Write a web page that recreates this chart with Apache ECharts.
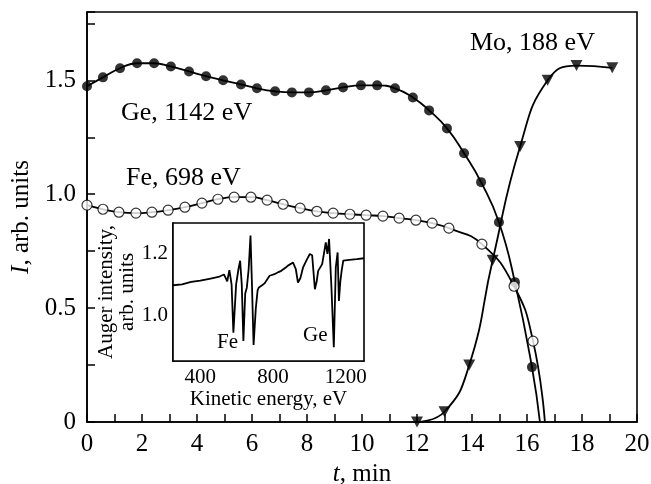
<!DOCTYPE html>
<html>
<head>
<meta charset="utf-8">
<script src="https://cdn.jsdelivr.net/npm/echarts@6/dist/echarts.min.js"></script>
<style>
html,body{margin:0;padding:0;background:#fff;}
#chart{width:651px;height:484px;}
</style>
</head>
<body>
<div id="chart"></div>
<script>
// Ge, 1142 eV (filled circles)
const geT = [0.00,0.58,1.20,1.82,2.44,3.05,3.71,4.33,4.95,5.60,6.18,6.84,7.45,8.07,8.69,9.31,9.96,10.55,11.20,11.85,12.44,13.09,13.71,14.33,14.98,15.56,16.18];
const geI = [1.474,1.513,1.553,1.575,1.575,1.561,1.539,1.518,1.500,1.482,1.465,1.452,1.447,1.447,1.456,1.469,1.478,1.478,1.465,1.425,1.368,1.289,1.180,1.053,0.877,0.614,0.241];
const geZeroT = 16.47;
// Fe, 698 eV (open circles)
const feT = [0.00,0.58,1.16,1.78,2.36,2.95,3.56,4.18,4.76,5.35,5.96,6.55,7.13,7.75,8.36,8.95,9.56,10.15,10.76,11.35,11.96,12.55,13.16,14.36,15.53,16.22];
const feI = [0.952,0.934,0.921,0.917,0.921,0.930,0.943,0.961,0.978,0.987,0.987,0.974,0.956,0.939,0.925,0.917,0.912,0.908,0.904,0.895,0.886,0.873,0.851,0.781,0.596,0.355];
const feZeroT = 16.65;
// Mo, 188 eV (down triangles)
const moT = [12.0,13.0,13.9,14.75,15.75,16.75,17.8,19.1];
const moI = [0.0,0.045,0.25,0.71,1.21,1.50,1.565,1.555];
// Inset Auger spectrum
const specE = [250,300,350,400,450,500,530,540,548,560,572,582,597,610,619,628,637,647,656,666,676,684,693,705,715,722,740,753,781,808,830,845,870,882,910,925,937,950,965,985,1002,1015,1030,1040,1048,1070,1090,1099,1108,1121,1134,1145,1155,1162,1170,1177,1186,1220,1260,1300];
const specI = [1.097,1.100,1.108,1.112,1.118,1.124,1.132,1.120,1.110,1.146,1.100,0.942,1.100,1.150,1.177,1.100,0.915,1.070,1.090,1.150,1.259,1.100,0.902,1.020,1.080,1.090,1.097,1.103,1.128,1.133,1.140,1.144,1.155,1.161,1.171,1.150,1.106,1.120,1.155,1.180,1.199,1.195,1.084,1.110,1.144,1.166,1.237,1.199,1.248,1.090,0.895,1.155,1.204,1.046,1.110,1.144,1.177,1.180,1.182,1.185];
// tick labels
const mainXLabels = [0,2,4,6,8,10,12,14,16,18,20];
const mainYLabels = [0,0.5,1.0,1.5];
const insetXTicks = [400,600,800,1000,1200];
const insetXLabels = [400,800,1200];
const insetYTicks = [0.9,1.0,1.1,1.2];
const insetYLabels = [1.0,1.2];

const FONT = '"Liberation Serif", "Times New Roman", serif';
const pairs = (xs, ys) => xs.map((x, i) => [x, ys[i]]);

const chart = echarts.init(document.getElementById('chart'), null, {renderer: 'canvas'});
const option = {
  animation: false,
  backgroundColor: '#fff',
  textStyle: {fontFamily: FONT, color: '#000'},
  grid: [
    {left: 87, right: 14, top: 12, bottom: 62, containLabel: false, outerBoundsMode: 'none',
      show: true, borderColor: '#000', borderWidth: 1.6, backgroundColor: 'transparent'},
    {left: 173, right: 287, top: 223, bottom: 123, containLabel: false, outerBoundsMode: 'none',
      show: true, borderColor: '#000', borderWidth: 1.6, backgroundColor: '#fff', z: 5}
  ],
  xAxis: [
    {
      type: 'value', gridIndex: 0, min: 0, max: 20, interval: 1,
      axisLine: {lineStyle: {color: '#000', width: 1.6}},
      axisTick: {inside: true, length: 8, lineStyle: {color: '#000', width: 1.5}},
      axisLabel: {fontFamily: FONT, fontSize: 25, color: '#000', margin: 10,
        formatter: v => mainXLabels.includes(v) ? String(v) : ''},
      splitLine: {show: false},
      name: '{it|t}, min', nameLocation: 'middle', nameGap: 31,
      nameTextStyle: {fontFamily: FONT, fontSize: 25, color: '#000',
        rich: {it: {fontFamily: FONT, fontSize: 25, fontStyle: 'italic', color: '#000'}}}
    },
    {
      type: 'value', gridIndex: 1, min: 250, max: 1300,
      axisLine: {lineStyle: {color: '#000', width: 1.6}},
      axisTick: {inside: true, length: 6, customValues: insetXTicks, lineStyle: {color: '#000', width: 1.2}},
      axisLabel: {fontFamily: FONT, fontSize: 21, color: '#000', margin: 6, customValues: insetXLabels,
        formatter: v => String(Math.round(v))},
      splitLine: {show: false},
      name: 'Kinetic energy, eV', nameLocation: 'middle', nameGap: 22,
      nameTextStyle: {fontFamily: FONT, fontSize: 21, color: '#000'}
    }
  ],
  yAxis: [
    {
      type: 'value', gridIndex: 0, min: 0, max: 1.8, interval: 0.25,
      axisLine: {lineStyle: {color: '#000', width: 1.6}},
      axisTick: {inside: true, length: 8, lineStyle: {color: '#000', width: 1.5}},
      axisLabel: {fontFamily: FONT, fontSize: 25, color: '#000', margin: 11, padding: [6, 0, 0, 0],
        formatter: v => {
          const m = mainYLabels.find(l => Math.abs(l - v) < 1e-6);
          if (m === undefined) return '';
          return m === 0 ? '0' : m.toFixed(1);
        }},
      splitLine: {show: false},
      name: '{it|I}, arb. units', nameLocation: 'middle', nameGap: 45, nameRotate: 90,
      nameTextStyle: {fontFamily: FONT, fontSize: 25, color: '#000',
        rich: {it: {fontFamily: FONT, fontSize: 25, fontStyle: 'italic', color: '#000'}}}
    },
    {
      type: 'value', gridIndex: 1, min: 0.85, max: 1.3,
      axisLine: {lineStyle: {color: '#000', width: 1.6}},
      axisTick: {inside: true, length: 6, customValues: insetYTicks, lineStyle: {color: '#000', width: 1.2}},
      axisLabel: {fontFamily: FONT, fontSize: 21, color: '#000', margin: 5, customValues: insetYLabels,
        formatter: v => Number(v).toFixed(1)},
      splitLine: {show: false},
      name: 'Auger intensity,\narb. units', nameLocation: 'middle', nameGap: 34, nameRotate: 90,
      nameTextStyle: {fontFamily: FONT, fontSize: 21, color: '#000', lineHeight: 21}
    }
  ],
  series: [
    {type: 'line', xAxisIndex: 0, yAxisIndex: 0, data: pairs(geT, geI).concat([[geZeroT, 0]]),
      smooth: 0.5, showSymbol: false, lineStyle: {color: '#000', width: 1.8}, z: 2},
    {type: 'line', xAxisIndex: 0, yAxisIndex: 0, data: pairs(feT, feI).concat([[feZeroT, 0]]),
      smooth: 0.5, showSymbol: false, lineStyle: {color: '#000', width: 1.8}, z: 2},
    {type: 'line', xAxisIndex: 0, yAxisIndex: 0, data: pairs(moT, moI),
      smooth: 0.5, showSymbol: false, lineStyle: {color: '#000', width: 1.8}, z: 2},
    {type: 'scatter', xAxisIndex: 0, yAxisIndex: 0, data: pairs(geT, geI),
      symbol: 'circle', symbolSize: 10, itemStyle: {color: '#000'}, z: 4},
    {type: 'scatter', xAxisIndex: 0, yAxisIndex: 0, data: pairs(feT, feI),
      symbol: 'circle', symbolSize: 10, itemStyle: {color: '#fff', borderColor: '#000', borderWidth: 1.2}, z: 4},
    {type: 'scatter', xAxisIndex: 0, yAxisIndex: 0, data: pairs(moT, moI),
      symbol: 'triangle', symbolRotate: 180, symbolSize: [12, 11], itemStyle: {color: '#000'}, z: 4},
    {type: 'line', xAxisIndex: 1, yAxisIndex: 1, data: pairs(specE, specI),
      showSymbol: false, lineStyle: {color: '#000', width: 1.8}, z: 6}
  ],
  graphic: [
    {type: 'text', x: 121, y: 113, z: 100, style: {text: 'Ge, 1142 eV', fontFamily: FONT, fontSize: 26, fill: '#000', align: 'left', verticalAlign: 'middle'}},
    {type: 'text', x: 126, y: 178, z: 100, style: {text: 'Fe, 698 eV', fontFamily: FONT, fontSize: 26, fill: '#000', align: 'left', verticalAlign: 'middle'}},
    {type: 'text', x: 470, y: 43, z: 100, style: {text: 'Mo, 188 eV', fontFamily: FONT, fontSize: 26, fill: '#000', align: 'left', verticalAlign: 'middle'}},
    {type: 'text', x: 217, y: 342, z: 100, style: {text: 'Fe', fontFamily: FONT, fontSize: 21, fill: '#000', align: 'left', verticalAlign: 'middle'}},
    {type: 'text', x: 303, y: 335, z: 100, style: {text: 'Ge', fontFamily: FONT, fontSize: 21, fill: '#000', align: 'left', verticalAlign: 'middle'}}
  ]
};
chart.setOption(option);
</script>
</body>
</html>
